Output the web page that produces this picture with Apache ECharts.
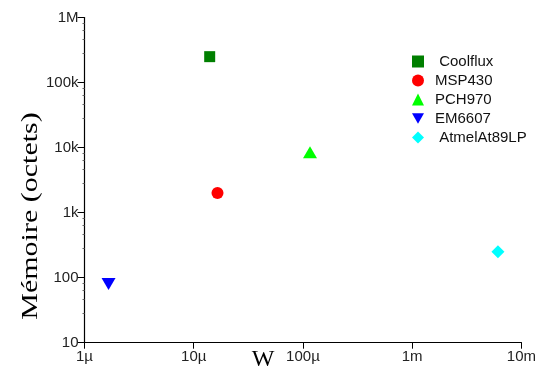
<!DOCTYPE html>
<html>
<head>
<meta charset="utf-8">
<script src="https://cdn.jsdelivr.net/npm/echarts@6/dist/echarts.min.js"></script>
<style>html,body{margin:0;padding:0;background:#fff;}#c{width:539px;height:374px;}</style>
</head>
<body>
<div id="c"></div>
<script>
const names = ['Coolflux', 'MSP430', 'PCH970', 'EM6607', 'AtmelAt89LP'];
const legendLabels = [' Coolflux', 'MSP430', 'PCH970', 'EM6607', ' AtmelAt89LP'];
const powerW = [14e-6, 16.5e-6, 116e-6, 1.66e-6, 6.1e-3];
const memoryBytes = [250000, 2000, 8500, 80, 250];
const xTickLabels = ['1µ', '10µ', '100µ', '1m', '10m'];
const yTickLabels = ['10', '100', '1k', '10k', '100k', '1M'];
const xTitle = 'W';
const yTitle = 'Mémoire (octets)';

const colors = ['#007f00', '#ff0000', '#00ff00', '#0000ff', '#00ffff'];
const symbols = ['rect', 'circle', 'triangle', 'path://M0,0L2,0L1,1.732Z', 'diamond'];
const sizes = [[11, 11], [12, 12], [14, 12], [14, 12], [13, 13]];

const chart = echarts.init(document.getElementById('c'), null, {renderer: 'canvas'});
const series = names.map((n, i) => ({
  name: legendLabels[i],
  type: 'scatter',
  symbol: symbols[i],
  symbolSize: sizes[i],
  itemStyle: {color: colors[i], opacity: 1},
  data: [[powerW[i], memoryBytes[i]]]
}));

chart.setOption({
  animation: false,
  backgroundColor: '#fff',
  grid: {left: 84.5, right: 15.5, top: 17.5, bottom: 31.3, containLabel: false},
  legend: {
    orient: 'vertical', left: 407, top: 49,
    itemWidth: 12, itemHeight: 12, itemGap: 4,
    textStyle: {fontFamily: 'Liberation Sans', fontSize: 15, color: '#111', padding: [0, 0, 0, 6]},
    data: legendLabels.map((l, i) => ({name: l, icon: symbols[i], itemStyle: {color: colors[i]}}))
  },
  xAxis: {
    type: 'log', logBase: 10, min: 1e-6, max: 1e-2,
    axisLine: {lineStyle: {color: '#000', width: 1.2}},
    axisTick: {show: true, length: 6, inside: false, lineStyle: {color: '#000'}},
    minorTick: {show: false},
    splitLine: {show: false},
    axisLabel: {
      fontFamily: 'Liberation Sans', fontSize: 15, color: '#222', margin: 7,
      formatter: v => xTickLabels[Math.round(Math.log10(v)) + 6]
    }
  },
  yAxis: {
    type: 'log', logBase: 10, min: 10, max: 1e6,
    axisLine: {lineStyle: {color: '#000', width: 1.2}},
    axisTick: {show: true, length: 7, inside: false, lineStyle: {color: '#000'}},
    minorTick: {show: true, splitNumber: 5, length: 2, lineStyle: {color: '#666'}},
    splitLine: {show: false},
    axisLabel: {
      fontFamily: 'Liberation Sans', fontSize: 15, color: '#222', margin: 6,
      formatter: v => yTickLabels[Math.round(Math.log10(v)) - 1]
    }
  },
  graphic: [
    {type: 'text', position: [263, 360],
     style: {text: xTitle, font: '24px "Liberation Serif"', fill: '#000', textAlign: 'center', textVerticalAlign: 'middle'}},
    {type: 'text', position: [31, 216], rotation: Math.PI / 2, scaleX: 1.25,
     style: {text: yTitle, font: '24px "Liberation Serif"', fill: '#000', textAlign: 'center', textVerticalAlign: 'middle'}}
  ],
  series: series
});
</script>
</body>
</html>
